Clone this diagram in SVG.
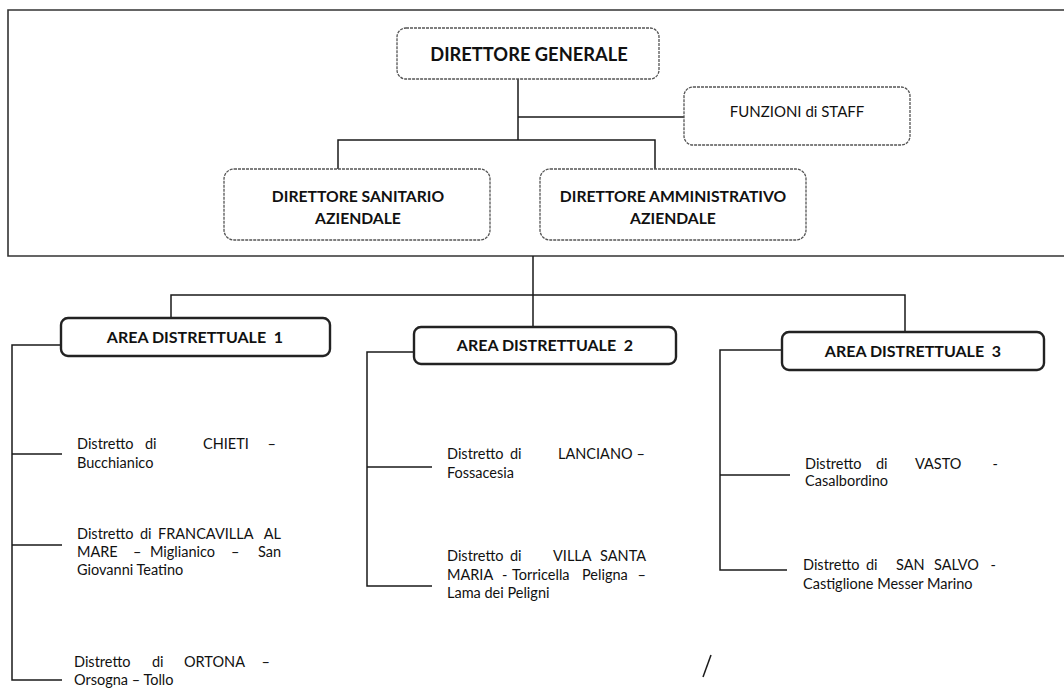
<svg xmlns="http://www.w3.org/2000/svg" width="1064" height="693" viewBox="0 0 1064 693">
<style>
.bg{fill:#ffffff}
.box{fill:#ffffff;stroke:#555;stroke-width:1.3;stroke-dasharray:3 1}
.area{fill:#ffffff;stroke:#222;stroke-width:2.4}
.ln{stroke:#1a1a1a;stroke-width:1.5;fill:none}
.frame{stroke:#333;stroke-width:1.6;fill:none}
.tb{font-family:Lato,"Open Sans",sans-serif;font-weight:bold;fill:#111;text-anchor:middle}
.tr{font-family:Lato,"Open Sans",sans-serif;fill:#111}
.d{font-family:Lato,"Open Sans",sans-serif;font-size:14.5px;fill:#111}
.e{text-anchor:end}
</style>
<rect class="bg" x="0" y="0" width="1064" height="693"/>
<path class="frame" d="M1064,10 H8 V256 H1064"/>
<g id="connectors">
<path class="ln" d="M518,79 V140 M518,117 H684 M338,169 V140 H655 V169"/>
<path class="ln" d="M533,256 V327 M171,318 V295 H905 V332"/>
<path class="ln" d="M61,345 H12 V680 H62 M12,454 H62 M12,545 H62"/>
<path class="ln" d="M414,352 H367 V586 H432 M367,467 H432"/>
<path class="ln" d="M782,350 H720 V570 H787 M720,475 H790"/>
<path class="ln" d="M711,655 L703,677"/>
</g>
<g id="direttore-generale">
<rect class="box" x="397" y="28" width="262" height="51" rx="9"/>
<text class="tb" x="529" y="61" font-size="18.3">DIRETTORE GENERALE</text>
</g>
<g id="funzioni-staff">
<rect class="box" x="684" y="87" width="226" height="58" rx="9"/>
<text class="tr" x="797" y="117" font-size="15" text-anchor="middle">FUNZIONI di STAFF</text>
</g>
<g id="direttore-sanitario">
<rect class="box" x="224" y="169" width="266" height="71" rx="10"/>
<text class="tb" x="358" y="202" font-size="15.7">DIRETTORE SANITARIO</text>
<text class="tb" x="358" y="224" font-size="15.7">AZIENDALE</text>
</g>
<g id="direttore-amministrativo">
<rect class="box" x="540" y="169" width="266" height="71" rx="10"/>
<text class="tb" x="673" y="202" font-size="15.7">DIRETTORE AMMINISTRATIVO</text>
<text class="tb" x="673" y="224" font-size="15.7">AZIENDALE</text>
</g>
<g id="area-1">
<rect class="area" x="61" y="318" width="269" height="38" rx="7"/>
<text class="tb" x="195" y="343" font-size="16" xml:space="preserve">AREA DISTRETTUALE  1</text>
</g>
<g id="area-2">
<rect class="area" x="414" y="327" width="262" height="37" rx="7"/>
<text class="tb" x="545" y="351" font-size="16" xml:space="preserve">AREA DISTRETTUALE  2</text>
</g>
<g id="area-3">
<rect class="area" x="782" y="332" width="262" height="38" rx="7"/>
<text class="tb" x="913" y="357" font-size="16" xml:space="preserve">AREA DISTRETTUALE  3</text>
</g>
<g id="distretto-chieti">
<text class="d" y="449"><tspan x="77">Distretto</tspan><tspan x="145">di</tspan><tspan x="203">CHIETI</tspan></text>
<text class="d e" x="276" y="449">–</text>
<text class="d" x="77" y="468">Bucchianico</text>
</g>
<g id="distretto-francavilla">
<text class="d" y="539"><tspan x="77">Distretto</tspan><tspan x="140">di</tspan><tspan x="158">FRANCAVILLA</tspan></text>
<text class="d e" x="281" y="539">AL</text>
<text class="d" y="557"><tspan x="77">MARE</tspan><tspan x="133">–</tspan><tspan x="150">Miglianico</tspan><tspan x="231">–</tspan></text>
<text class="d e" x="281" y="557">San</text>
<text class="d" x="77" y="575">Giovanni Teatino</text>
</g>
<g id="distretto-ortona">
<text class="d" y="667"><tspan x="74">Distretto</tspan><tspan x="152">di</tspan><tspan x="184">ORTONA</tspan></text>
<text class="d e" x="270" y="667">–</text>
<text class="d" x="74" y="685">Orsogna – Tollo</text>
</g>
<g id="distretto-lanciano">
<text class="d" y="459"><tspan x="447">Distretto</tspan><tspan x="510">di</tspan><tspan x="558">LANCIANO</tspan></text>
<text class="d e" x="645" y="459">–</text>
<text class="d" x="447" y="478">Fossacesia</text>
</g>
<g id="distretto-villa-santa-maria">
<text class="d" y="561"><tspan x="447">Distretto</tspan><tspan x="510">di</tspan><tspan x="553">VILLA</tspan></text>
<text class="d e" x="646" y="561">SANTA</text>
<text class="d" y="580"><tspan x="447">MARIA</tspan><tspan x="502">-</tspan><tspan x="512">Torricella</tspan><tspan x="582">Peligna</tspan></text>
<text class="d e" x="646" y="580">–</text>
<text class="d" x="447" y="598">Lama dei Peligni</text>
</g>
<g id="distretto-vasto">
<text class="d" y="469"><tspan x="805">Distretto</tspan><tspan x="876">di</tspan><tspan x="915">VASTO</tspan></text>
<text class="d e" x="998" y="469">-</text>
<text class="d" x="805" y="486">Casalbordino</text>
</g>
<g id="distretto-san-salvo">
<text class="d" y="570"><tspan x="803">Distretto</tspan><tspan x="866">di</tspan><tspan x="896">SAN</tspan><tspan x="934">SALVO</tspan></text>
<text class="d e" x="996" y="570">-</text>
<text class="d" x="803" y="589">Castiglione Messer Marino</text>
</g>
</svg>
